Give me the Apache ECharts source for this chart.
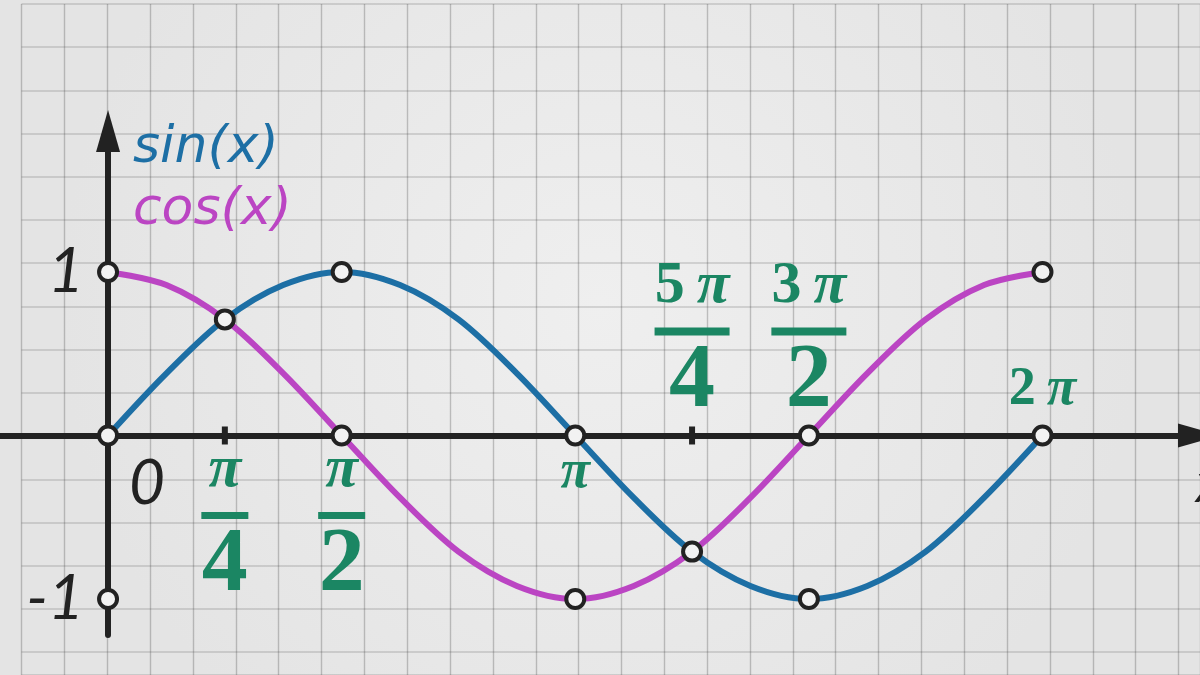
<!DOCTYPE html>
<html>
<head>
<meta charset="utf-8">
<script src="https://cdn.jsdelivr.net/npm/echarts@6/dist/echarts.min.js"></script>
<style>html,body{margin:0;padding:0;background:#e9e9e9}#chart{width:1200px;height:675px}</style>
</head>
<body>
<div id="chart"></div>
<script>
// x values are in units of π/4
const sampleX   = [0, 0.5, 1, 1.5, 2, 2.5, 3, 3.5, 4, 4.5, 5, 5.5, 6, 6.5, 7, 7.5, 8];
const sinValues = [0, 0.38, 0.71, 0.92, 1, 0.92, 0.71, 0.38, 0, -0.38, -0.71, -0.92, -1, -0.92, -0.71, -0.38, 0];
const cosValues = [1, 0.92, 0.71, 0.38, 0, -0.38, -0.71, -0.92, -1, -0.92, -0.71, -0.38, 0, 0.38, 0.71, 0.92, 1];

const keyX        = [0, 2, 4, 6, 8];
const sinKeyVals  = [0, 1, 0, -1, 0];
const cosKeyVals  = [1, 0, -1, 0, 1];
const crossX      = [1, 5];
const crossVals   = [0.71, -0.71];
const axisPointX  = [0];
const axisPointY  = [-1];

const tickMarkX   = [1, 5];
const tickLabelX  = [1, 2, 4, 5, 6, 8];
const tickLabels  = ['π/4', 'π/2', 'π', '5π/4', '3π/2', '2π'];
const tickSide    = ['below', 'below', 'below', 'above', 'above', 'above'];
const yLabelVals  = [1, -1];

const BLUE = '#1d6fa5', MAG = '#bb45c3', GREEN = '#1b8663', INK = '#222222';

function pairs(xs, ys) { return xs.map((x, i) => [x, ys[i]]); }

function richFor(text) {
  if (text.indexOf('/') >= 0) {
    const [num, den] = text.split('/');
    const coef = num.replace('π', '');
    const numStr = coef ? '{num|' + coef + '}{pi|\u2009π}' : '{pi|π}';
    const bar = coef ? '{barL| }' : '{barS| }';
    return numStr + '\n' + bar + '\n{den|' + den + '}';
  }
  const coef = text.replace('π', '');
  return coef ? '{num2|' + coef + '}{pi2|\u2009π}' : '{pi1|π}';
}
function offsetFor(text, side) {
  const frac = text.indexOf('/') >= 0;
  if (frac) return side === 'below' ? [0, 86] : [0, -98];
  return side === 'below' ? [0, 38] : [0, -45];
}

const serif = "'Liberation Serif', serif";
const hand = "'DejaVu Sans', sans-serif";
const digits = "Lato, 'Open Sans', sans-serif";

const chart = echarts.init(document.getElementById('chart'));
chart.setOption({
  backgroundColor: {
    type: 'radial', x: 0.5, y: 0.45, r: 0.8,
    colorStops: [{ offset: 0, color: '#efefef' }, { offset: 1, color: '#e4e4e4' }]
  },
  animation: false,
  legend: {
    orient: 'vertical', left: 122, top: 112, itemGap: 0,
    itemWidth: 0, itemHeight: 0, selectedMode: false,
    textStyle: { fontFamily: hand, fontStyle: 'italic', fontSize: 52, lineHeight: 62 },
    data: [
      { name: 'sin(x)', textStyle: { color: BLUE } },
      { name: 'cos(x)', textStyle: { color: MAG } }
    ]
  },
  grid: [
    { left: 0, right: 1, top: 131, bottom: 40, containLabel: false, outerBoundsMode: 'none' },
    { left: 21.5, right: 0, top: 4, bottom: 0, containLabel: false, outerBoundsMode: 'none' }
  ],
  xAxis: [
    {
      type: 'value', gridIndex: 0, min: -0.925, max: 9.34,
      axisLine: { onZero: true, symbol: ['none', 'triangle'], symbolSize: [24, 42], lineStyle: { color: INK, width: 6 } },
      axisTick: { show: false }, axisLabel: { show: false }, splitLine: { show: false },
      name: 'x', nameLocation: 'end', nameGap: -3,
      nameTextStyle: { fontFamily: digits, fontStyle: 'italic', fontSize: 54, color: INK, align: 'left', verticalAlign: 'top', padding: [22, 0, 0, 0] }
    },
    {
      type: 'value', gridIndex: 1, min: 0, max: 27.5, interval: 1,
      axisLine: { show: false }, axisTick: { show: false }, axisLabel: { show: false },
      splitLine: { show: true, lineStyle: { color: 'rgba(60,60,60,0.28)', width: 1.4 } }
    }
  ],
  yAxis: [
    {
      type: 'value', gridIndex: 0, min: -1.22, max: 1.862,
      axisLine: { onZero: true, symbol: ['none', 'triangle'], symbolSize: [24, 42], lineStyle: { color: INK, width: 6 } },
      axisTick: { show: false }, splitLine: { show: false }, axisLabel: { show: false }
    },
    {
      type: 'value', gridIndex: 1, min: 0, max: 15.53, interval: 1, inverse: true,
      axisLine: { show: false }, axisTick: { show: false }, axisLabel: { show: false },
      splitLine: { show: true, lineStyle: { color: 'rgba(80,80,80,0.18)', width: 2 } }
    }
  ],
  series: [
    {
      name: 'sin(x)', type: 'line', xAxisIndex: 0, yAxisIndex: 0, smooth: 0.33, showSymbol: false,
      data: pairs(sampleX, sinValues), lineStyle: { color: BLUE, width: 6 }, itemStyle: { color: BLUE }, z: 3
    },
    {
      name: 'cos(x)', type: 'line', xAxisIndex: 0, yAxisIndex: 0, smooth: 0.33, showSymbol: false,
      data: pairs(sampleX, cosValues), lineStyle: { color: MAG, width: 6 }, itemStyle: { color: MAG }, z: 3
    },
    {
      name: 'ticks', type: 'scatter', symbol: 'rect', symbolSize: [6, 18],
      data: tickMarkX.map(x => [x, 0]), itemStyle: { color: INK, opacity: 1 }, z: 4, silent: true
    },
    {
      name: 'points', type: 'scatter', symbol: 'circle', symbolSize: 18,
      data: [].concat(pairs(keyX, sinKeyVals), pairs(keyX, cosKeyVals), pairs(crossX, crossVals), pairs(axisPointX, axisPointY)),
      itemStyle: { color: '#f2f2f2', borderColor: INK, borderWidth: 4, opacity: 1 }, z: 6, silent: true
    },
    {
      name: 'tickLabels', type: 'scatter', symbolSize: 0, silent: true, z: 5,
      itemStyle: { opacity: 1 },
      data: tickLabelX.map((x, i) => ({
        value: [x, 0],
        label: { show: true, position: 'inside', offset: offsetFor(tickLabels[i], tickSide[i]), formatter: richFor(tickLabels[i]) }
      })),
      label: {
        color: GREEN, align: 'center', opacity: 1,
        rich: {
          num:  { fontFamily: serif, fontWeight: 'bold', fontSize: 60, color: GREEN, lineHeight: 80 },
          pi:   { fontFamily: serif, fontStyle: 'italic', fontWeight: 'bold', fontSize: 60, color: GREEN, lineHeight: 80 },
          barS: { width: 47, height: 7, backgroundColor: GREEN, lineHeight: 10, fontSize: 1 },
          barL: { width: 75, height: 8, backgroundColor: GREEN, lineHeight: 10, fontSize: 1 },
          den:  { fontFamily: serif, fontWeight: 'bold', fontSize: 92, color: GREEN, lineHeight: 92 },
          pi1:  { fontFamily: serif, fontStyle: 'italic', fontWeight: 'bold', fontSize: 54, color: GREEN },
          num2: { fontFamily: serif, fontWeight: 'bold', fontSize: 54, color: GREEN },
          pi2:  { fontFamily: serif, fontStyle: 'italic', fontWeight: 'bold', fontSize: 54, color: GREEN }
        }
      }
    },
    {
      name: 'yLabels', type: 'scatter', symbolSize: 0, silent: true, z: 5,
      itemStyle: { opacity: 1 },
      data: yLabelVals.map(v => [0, v]),
      label: {
        show: true, position: 'left', distance: 24, formatter: p => String(p.value[1]),
        fontFamily: digits, fontStyle: 'italic', fontSize: 62, color: INK, opacity: 1
      }
    },
    {
      name: 'originLabel', type: 'scatter', symbolSize: 0, silent: true, z: 5,
      itemStyle: { opacity: 1 },
      data: [{ value: [0, 0], label: { show: true, position: 'inside', offset: [39, 49], formatter: '0' } }],
      label: { fontFamily: digits, fontStyle: 'italic', fontSize: 62, color: INK, opacity: 1 }
    }
  ]
});
</script>
</body>
</html>
